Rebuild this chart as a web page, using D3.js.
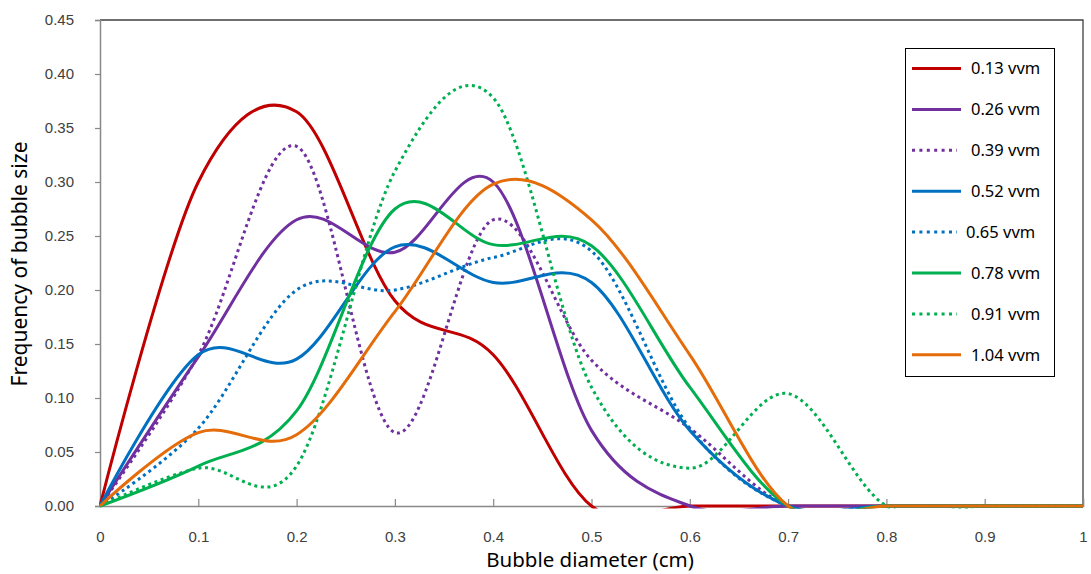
<!DOCTYPE html>
<html>
<head>
<meta charset="utf-8">
<script src="https://cdn.jsdelivr.net/npm/d3@7"></script>
<style>
  html, body { margin: 0; padding: 0; background: #fff; }
  svg { display: block; font-family: "Noto Sans", "Open Sans", sans-serif; }
</style>
</head>
<body>
<svg id="chart" width="1091" height="574"></svg>
<script>
// Bubble diameter (cm) sampled every 0.1 cm
const diameter = [0, 0.1, 0.2, 0.3, 0.4, 0.5, 0.6, 0.7, 0.8, 0.9, 1.0];

// Frequency of bubble size for each aeration rate
const freq013 = [0, 0.300, 0.365, 0.190, 0.140, 0.000, 0, 0, 0, 0, 0];
const freq026 = [0, 0.138, 0.265, 0.235, 0.300, 0.070, 0, 0, 0, 0, 0];
const freq039 = [0, 0.140, 0.333, 0.068, 0.265, 0.135, 0.072, 0, 0, 0, 0];
const freq052 = [0, 0.140, 0.136, 0.240, 0.207, 0.207, 0.070, 0, 0, 0, 0];
const freq065 = [0, 0.072, 0.200, 0.200, 0.230, 0.236, 0.072, 0, 0, 0, 0];
const freq078 = [0, 0.037, 0.088, 0.275, 0.242, 0.241, 0.110, 0, 0, 0, 0];
const freq091 = [0, 0.035, 0.037, 0.310, 0.378, 0.110, 0.035, 0.104, 0, 0, 0];
const freq104 = [0, 0.068, 0.066, 0.180, 0.298, 0.265, 0.140, 0, 0, 0, 0];

const seriesNames = ["0.13 vvm", "0.26 vvm", "0.39 vvm", "0.52 vvm", "0.65 vvm", "0.78 vvm", "0.91 vvm", "1.04 vvm"];
const seriesValues = [freq013, freq026, freq039, freq052, freq065, freq078, freq091, freq104];
const seriesColors = ["#C00000", "#7030A0", "#7030A0", "#0070C0", "#0070C0", "#00B050", "#00B050", "#E46C0A"];
const seriesDotted = [false, false, true, false, true, false, true, false];

const xTickValues = [0, 0.1, 0.2, 0.3, 0.4, 0.5, 0.6, 0.7, 0.8, 0.9, 1];
const xTickLabels = ["0", "0.1", "0.2", "0.3", "0.4", "0.5", "0.6", "0.7", "0.8", "0.9", "1"];
const yTickValues = [0, 0.05, 0.10, 0.15, 0.20, 0.25, 0.30, 0.35, 0.40, 0.45];
const yTickLabels = ["0.00", "0.05", "0.10", "0.15", "0.20", "0.25", "0.30", "0.35", "0.40", "0.45"];

const svg = d3.select("#chart");
const W = 1091, H = 574;
const margin = { top: 20, right: 8, bottom: 68, left: 100 };
const plotW = W - margin.left - margin.right;
const plotH = H - margin.top - margin.bottom;

const x = d3.scaleLinear().domain([0, 1]).range([margin.left, margin.left + plotW]);
const y = d3.scaleLinear().domain([0, 0.45]).range([margin.top + plotH, margin.top]);

// Series are clipped to the plot area (a little slack below the axis)
svg.append("defs").append("clipPath").attr("id", "plot-clip")
  .append("rect")
  .attr("x", x(0) - 1).attr("y", y(0.45) - 2)
  .attr("width", plotW + 2).attr("height", plotH + 4.5);

// Plot-area frame (top and right edges)
svg.append("path")
  .attr("d", `M${x(0)},${y(0.45)}H${x(1)}V${y(0)}`)
  .attr("fill", "none")
  .attr("stroke", "#404040")
  .attr("stroke-width", 1.3);

// Y axis
const yAxis = d3.axisLeft(y)
  .tickValues(yTickValues)
  .tickFormat((d, i) => yTickLabels[i])
  .tickSize(5)
  .tickPadding(21);
const gy = svg.append("g").attr("transform", `translate(${x(0)},0)`).call(yAxis);
gy.select(".domain").attr("stroke", "#898989").attr("stroke-width", 1.5);
gy.selectAll(".tick line").attr("stroke", "#898989").attr("stroke-width", 1.2);
gy.selectAll(".tick text").attr("fill", "#404040").style("font-size", "15px");

// X axis (ticks point inward)
const xAxis = d3.axisBottom(x)
  .tickValues(xTickValues)
  .tickFormat((d, i) => xTickLabels[i])
  .tickSize(-7)
  .tickPadding(25);
const gx = svg.append("g").attr("transform", `translate(0,${y(0)})`).call(xAxis);
gx.select(".domain").attr("stroke", "#898989").attr("stroke-width", 1.5);
gx.selectAll(".tick line").attr("stroke", "#898989").attr("stroke-width", 1.2);
gx.selectAll(".tick text").attr("fill", "#404040").style("font-size", "15px");

// Axis titles
svg.append("text")
  .attr("x", 590).attr("y", 567)
  .attr("text-anchor", "middle")
  .style("font-size", "20.5px")
  .attr("fill", "#000")
  .text("Bubble diameter (cm)");

svg.append("text")
  .attr("transform", `translate(27,${264}) rotate(-90)`)
  .attr("text-anchor", "middle")
  .style("font-size", "21px")
  .attr("fill", "#000")
  .text("Frequency of bubble size");

// Smoothed series lines
const line = d3.line()
  .x((d, i) => x(diameter[i]))
  .y(d => y(d))
  .curve(d3.curveCardinal.tension(0));

const gLines = svg.append("g").attr("clip-path", "url(#plot-clip)");
seriesValues.forEach((vals, k) => {
  gLines.append("path")
    .datum(vals)
    .attr("d", line)
    .attr("fill", "none")
    .attr("stroke", seriesColors[k])
    .attr("stroke-width", 3)
    .attr("stroke-linejoin", "round")
    .attr("stroke-dasharray", seriesDotted[k] ? "3 3.6" : null);
});

// Legend
const lg = svg.append("g");
lg.append("rect")
  .attr("x", 905.5).attr("y", 48.5)
  .attr("width", 149).attr("height", 328)
  .attr("fill", "#fff")
  .attr("stroke", "#000")
  .attr("stroke-width", 1);

seriesNames.forEach((name, k) => {
  const cy = 68.5 + k * 40.9;
  const dotted = seriesDotted[k];
  lg.append("line")
    .attr("x1", 912).attr("x2", dotted ? 957 : 961)
    .attr("y1", cy).attr("y2", cy)
    .attr("stroke", seriesColors[k])
    .attr("stroke-width", 3)
    .attr("stroke-dasharray", dotted ? "3 4.4" : null);
  lg.append("text")
    .attr("x", name === "0.65 vvm" ? 966 : 971)
    .attr("y", cy)
    .attr("dy", "0.35em")
    .style("font-size", "16.5px")
    .attr("fill", "#000")
    .text(name);
});
</script>
</body>
</html>
